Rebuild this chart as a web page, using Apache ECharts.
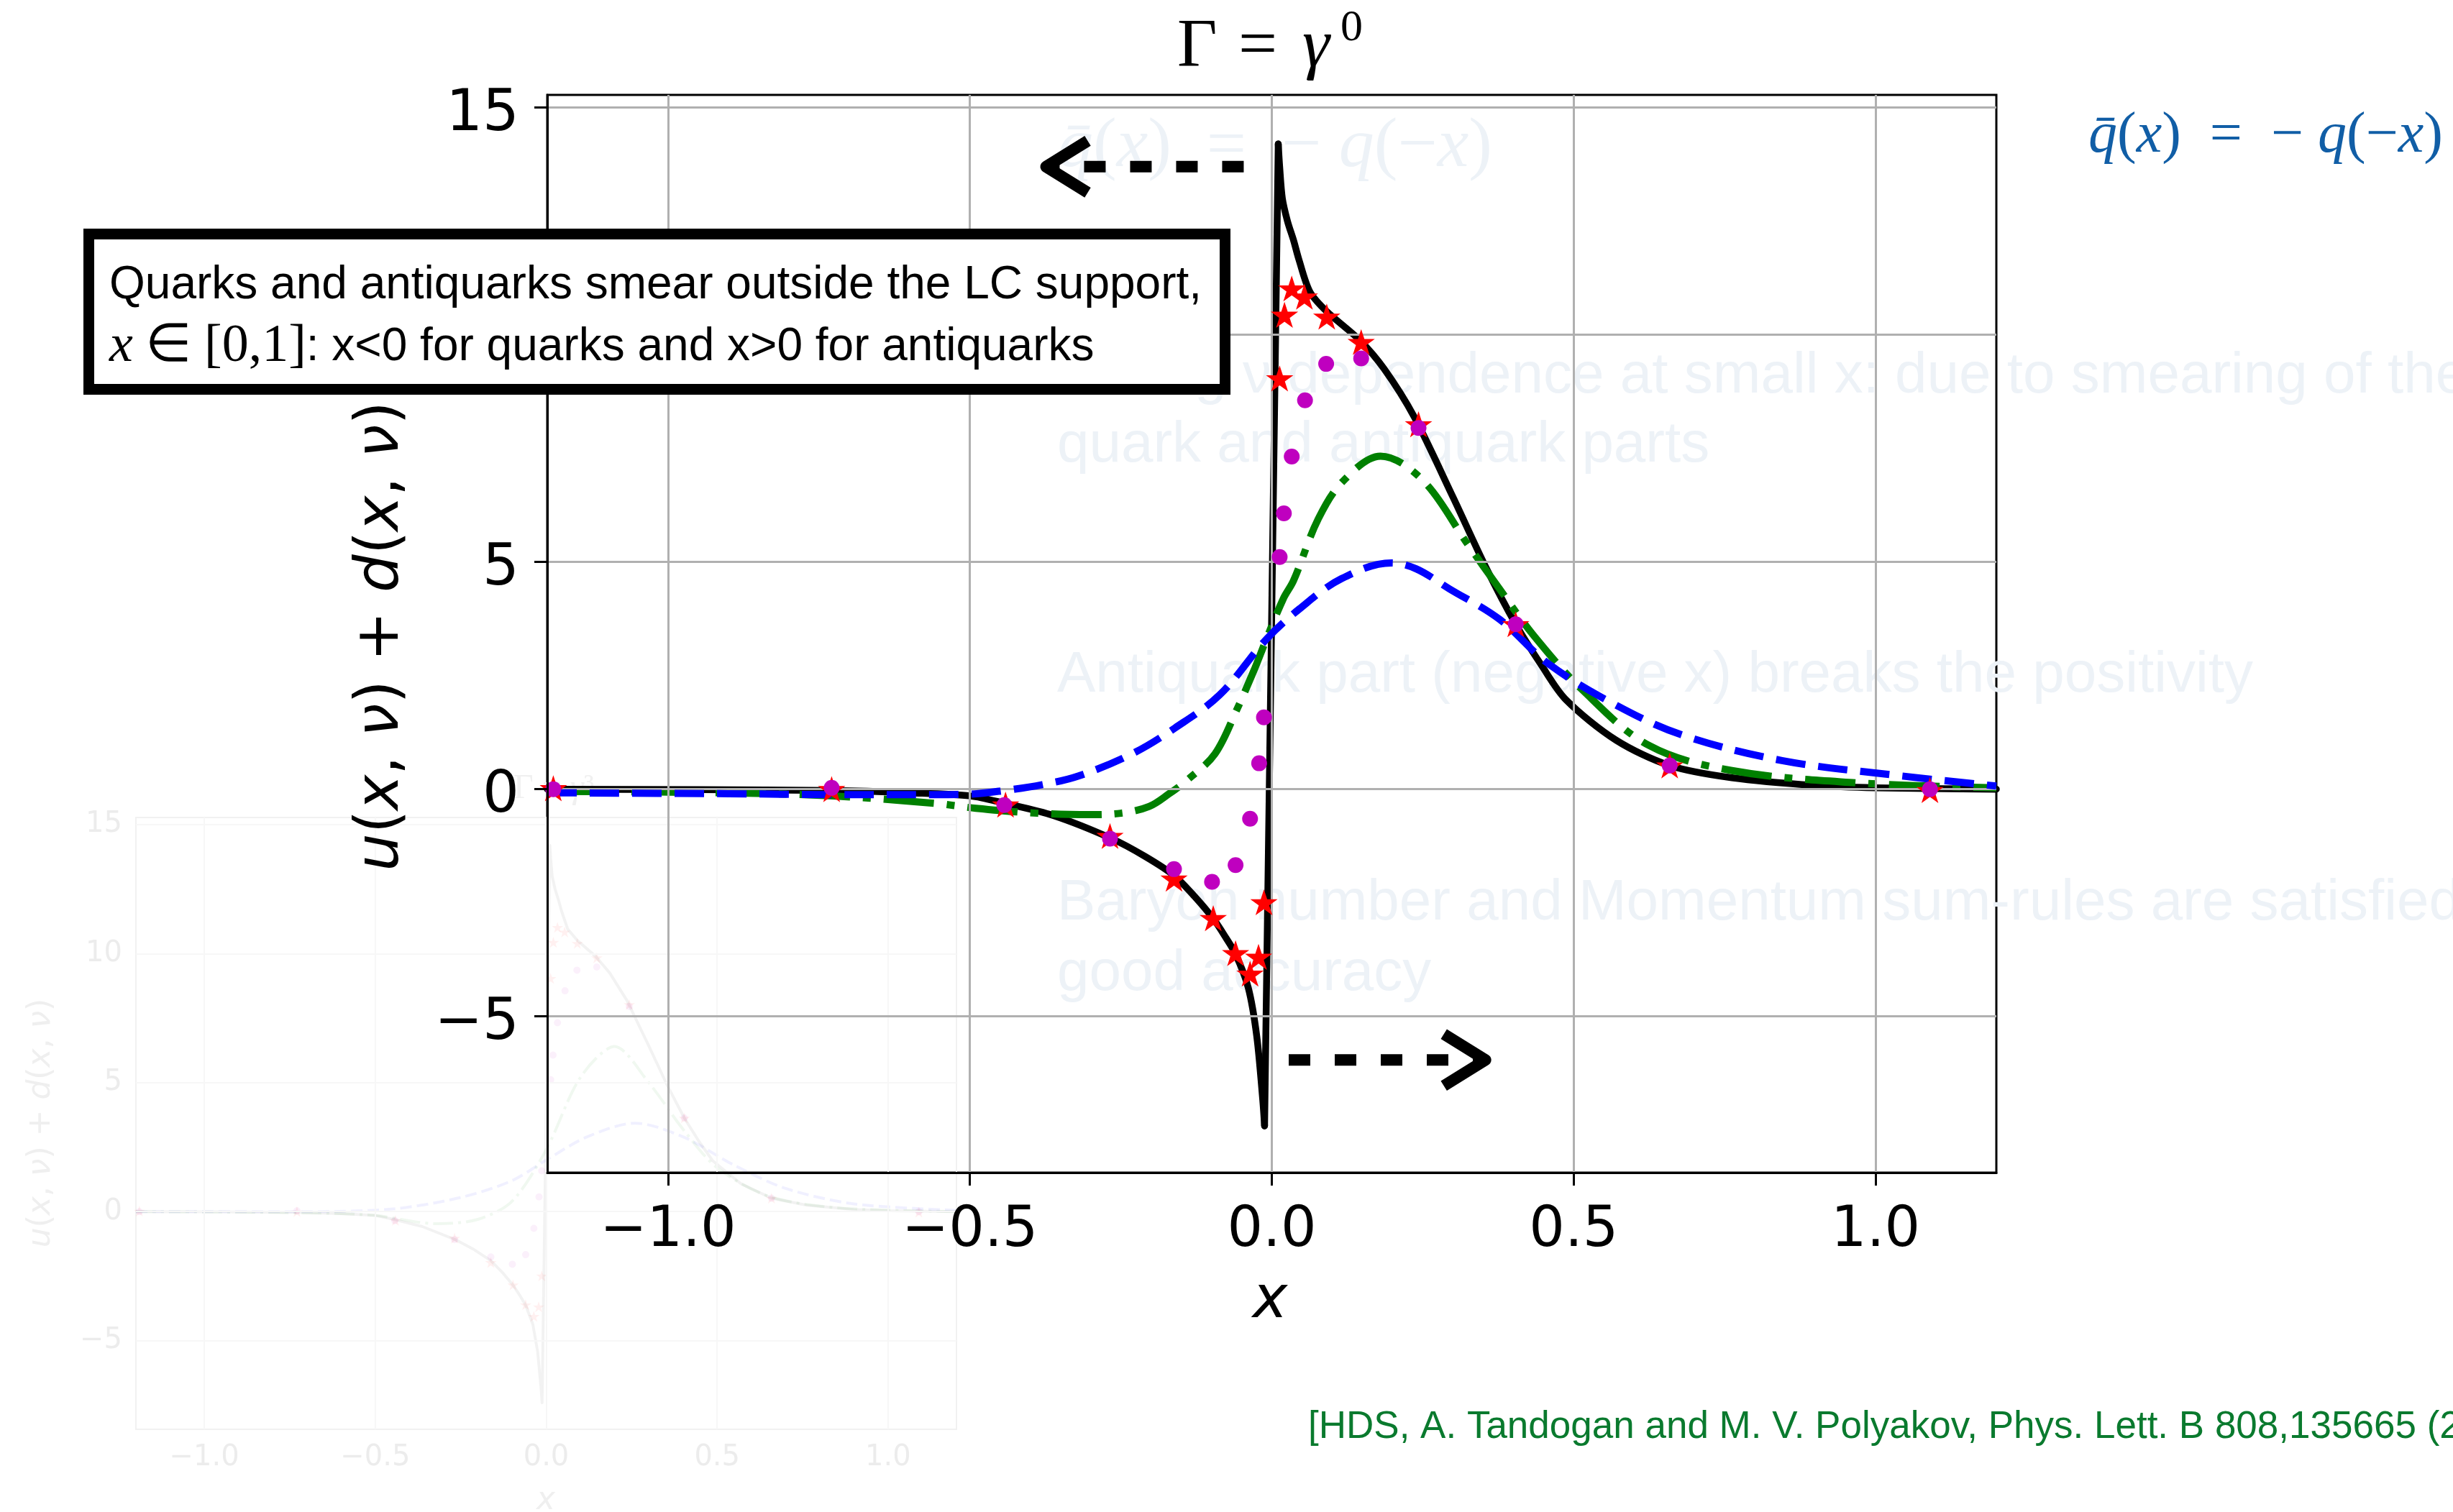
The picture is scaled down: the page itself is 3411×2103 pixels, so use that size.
<!DOCTYPE html>
<html><head><meta charset="utf-8">
<script src="https://cdn.jsdelivr.net/npm/echarts@6/dist/echarts.min.js"></script>
<style>html,body{margin:0;padding:0;background:#fff;}#c{width:3411px;height:2103px;}</style>
</head><body><div id="c"></div>
<script>
// ---------------- data ----------------
const xTicks = [-1.0, -0.5, 0.0, 0.5, 1.0];
const yTicks = [-5, 0, 5, 10, 15];
const xRange = [-1.2, 1.2];
const yRange = [-8.44, 15.28];

const blackCurve = [[-1.2,0.0],[-0.95,-0.01],[-0.727,-0.03],[-0.6,-0.08],[-0.499,-0.15],[-0.443,-0.31],
 [-0.362,-0.58],[-0.265,-1.09],[-0.21,-1.48],[-0.162,-1.9],[-0.128,-2.36],[-0.097,-2.85],[-0.077,-3.25],
 [-0.06,-3.63],[-0.039,-4.37],[-0.025,-5.43],[-0.015,-6.84],[-0.012,-7.41],[0.0107,14.2],[0.013,13.7],
 [0.0175,13.0],[0.026,12.5],[0.036,12.08],[0.045,11.65],[0.063,10.95],[0.0906,10.52],[0.145,9.89],
 [0.186,9.25],[0.236,8.19],[0.30,6.43],[0.355,4.87],[0.404,3.63],[0.446,2.74],[0.487,1.97],[0.57,1.08],
 [0.659,0.52],[0.762,0.25],[0.9,0.08],[1.0,0.03],[1.2,0.0]];

const greenCurve = [[-1.2,-0.05],[-0.9,-0.08],[-0.727,-0.15],[-0.559,-0.31],[-0.49,-0.42],[-0.388,-0.53],
 [-0.3,-0.56],[-0.25,-0.53],[-0.203,-0.38],[-0.17,-0.1],[-0.14,0.2],[-0.094,0.78],[-0.058,1.75],[-0.03,2.6],
 [-0.009,3.3],[0.019,4.19],[0.036,4.59],[0.077,5.95],[0.118,6.78],[0.18,7.33],[0.25,6.8],[0.325,5.38],
 [0.377,4.41],[0.432,3.41],[0.514,2.19],[0.625,0.96],[0.762,0.41],[0.968,0.14],[1.2,0.03]];

const blueCurve = [[-1.2,-0.08],[-0.9,-0.1],[-0.727,-0.12],[-0.56,-0.12],[-0.5,-0.11],[-0.443,-0.03],
 [-0.38,0.1],[-0.32,0.29],[-0.231,0.78],[-0.16,1.35],[-0.086,2.08],[-0.009,3.3],[0.046,3.97],[0.115,4.63],
 [0.198,4.98],[0.239,4.85],[0.294,4.41],[0.377,3.74],[0.459,2.75],[0.57,1.85],[0.68,1.19],[0.845,0.63],
 [1.037,0.30],[1.2,0.07]];

const magentaDots = [[-1.19,0.0],[-0.729,0.03],[-0.443,-0.35],[-0.268,-1.09],[-0.162,-1.76],[-0.099,-2.04],
 [-0.060,-1.67],[-0.036,-0.65],[-0.021,0.57],[-0.013,1.58],[0.013,5.11],[0.020,6.07],[0.033,7.32],
 [0.055,8.56],[0.090,9.36],[0.148,9.48],[0.243,7.95],[0.404,3.63],[0.659,0.52],[1.09,0.0]];

const redStars = [[-1.19,0.02],[-0.729,0.0],[-0.441,-0.34],[-0.268,-1.03],[-0.162,-1.97],[-0.097,-2.84],
 [-0.060,-3.61],[-0.036,-4.06],[-0.022,-3.69],[-0.013,-2.49],[0.013,9.04],[0.021,10.44],[0.033,11.02],
 [0.054,10.84],[0.091,10.40],[0.148,9.84],[0.243,8.03],[0.404,3.63],[0.659,0.52],[1.09,-0.02]];

// faint background copy (other Gamma) -- rough readings
const miniGreen = [[-1.2,0.0],[-0.7,-0.05],[-0.5,-0.15],[-0.32,-0.47],[-0.2,-0.3],[-0.1,0.4],[0.0,2.4],
 [0.1,5.2],[0.2,6.4],[0.3,5.0],[0.4,3.2],[0.5,1.7],[0.65,0.6],[0.85,0.15],[1.2,0.0]];
const miniBlue = [[-1.2,0.0],[-0.7,0.0],[-0.45,0.1],[-0.25,0.55],[-0.1,1.2],[0.0,2.0],[0.12,2.9],
 [0.26,3.43],[0.4,2.9],[0.55,1.8],[0.7,0.9],[0.9,0.3],[1.2,0.05]];

// annotation arrows (data coordinates)
const arrowLeft = {from:[-0.0465,13.70], to:[-0.374,13.70]};
const arrowRight = {from:[0.028,-5.96], to:[0.354,-5.96]};

// ---------------- chart ----------------
const chart = echarts.init(document.getElementById('c'), null, {renderer:'canvas', width:3411, height:2103});
const MINUS = '\u2212';
const fmtX = v => (v < -1e-9 ? MINUS : '') + Math.abs(v).toFixed(1);
const fmtY = v => (v < -1e-9 ? MINUS : '') + Math.abs(Math.round(v));
const starPath = 'path://M0 -10 L2.245 -3.09 L9.511 -3.09 L3.633 1.18 L5.878 8.09 L0 3.82 L-5.878 8.09 L-3.633 1.18 L-9.511 -3.09 L-2.245 -3.09 Z';
const MAIN_FONT = 'DejaVu Sans';

// split black curve at its minimum (cusp) so each smooth branch keeps the sharp spike
let iMin = 0;
blackCurve.forEach((p, i) => { if (p[1] < blackCurve[iMin][1]) iMin = i; });
const blackLeft = blackCurve.slice(0, iMin + 1);
const blackSpike = blackCurve.slice(iMin, iMin + 2);
const blackRight = blackCurve.slice(iMin + 1);

function xAxisCfg(grid, faint){
  return {type:'value', gridIndex:grid, min:xRange[0], max:xRange[1], z: faint?0:10,
    axisLine:{show:!faint, onZero:false, lineStyle:{color:'#000', width:3}},
    axisTick:{show:!faint, customValues:xTicks, length:18, lineStyle:{color:'#000', width:3}},
    axisLabel:{show:true, customValues:xTicks, formatter:fmtX, fontFamily:MAIN_FONT,
      fontSize: faint?40:78, color: faint?'#ececec':'#000', margin: faint?20:43},
    splitLine:{show:false}};
}
function yAxisCfg(grid, faint){
  return {type:'value', gridIndex:grid, min:yRange[0], max:yRange[1], z: faint?0:10,
    axisLine:{show:!faint, onZero:false, lineStyle:{color:'#000', width:3}},
    axisTick:{show:!faint, customValues:yTicks, length:18, lineStyle:{color:'#000', width:3}},
    // main y labels are drawn below from the axis scale (to match the reference's baseline)
    axisLabel:{show:faint, customValues:yTicks, formatter:fmtY, fontFamily:MAIN_FONT,
      fontSize:40, color:'#ececec', margin:19},
    splitLine:{show:false}};
}
function gridSeries(idx, color, w, z){
  return {type:'line', xAxisIndex:idx, yAxisIndex:idx, data:[[xRange[0],0]], showSymbol:false,
    lineStyle:{width:0, opacity:0}, silent:true, z:z,
    markLine:{silent:true, symbol:['none','none'], label:{show:false}, emphasis:{disabled:true},
      lineStyle:{color:color, width:w, type:'solid'},
      data:[...xTicks.map(v=>({xAxis:v})), ...yTicks.map(v=>({yAxis:v}))]}};
}
function curveSeries(idx, data, color, width, dash, z, smooth, cap){
  return {type:'line', xAxisIndex:idx, yAxisIndex:idx, data:data, showSymbol:false, symbol:'none',
    smooth:smooth, z:z, silent:true,
    lineStyle:{color:color, width:width, type:dash, cap:cap||'butt', join:'round'}};
}
function scatterSeries(idx, data, color, symbol, size, z){
  return {type:'scatter', xAxisIndex:idx, yAxisIndex:idx, data:data, symbol:symbol, symbolSize:size,
    symbolKeepAspect:true, z:z, silent:true, itemStyle:{color:color, opacity:1}};
}

const option = {
  backgroundColor:'#ffffff', animation:false,
  grid:[
    {left:761, top:132, width:2015, height:1499, show:true, borderColor:'#000', borderWidth:3,
     backgroundColor:'rgba(0,0,0,0)', containLabel:false, outerBoundsMode:'none'},
    {left:189, top:1137, width:1141, height:851, show:true, borderColor:'#f1f1f1', borderWidth:2,
     backgroundColor:'rgba(0,0,0,0)', containLabel:false, outerBoundsMode:'none'}
  ],
  xAxis:[xAxisCfg(0,false), xAxisCfg(1,true)],
  yAxis:[yAxisCfg(0,false), yAxisCfg(1,true)],
  series:[
    // faint background copy
    gridSeries(1, '#f7f7f7', 2, 0),
    curveSeries(1, blackCurve, 'rgba(0,0,0,0.05)', 4, 'solid', 0, false),
    curveSeries(1, miniGreen, 'rgba(0,128,0,0.06)', 4, [28,7,4,7], 0, 0.3),
    curveSeries(1, miniBlue, 'rgba(0,0,255,0.06)', 4, [16,7], 0, 0.3),
    scatterSeries(1, redStars, 'rgba(255,0,0,0.06)', starPath, 16, 0),
    scatterSeries(1, magentaDots, 'rgba(191,0,191,0.06)', 'circle', 10, 0),
    // main chart
    gridSeries(0, '#b0b0b0', 3, 1),
    curveSeries(0, blackLeft, '#000000', 9.5, 'solid', 3, 0.3, 'round'),
    curveSeries(0, blackSpike, '#000000', 9.5, 'solid', 3, false, 'round'),
    curveSeries(0, blackRight, '#000000', 9.5, 'solid', 3, 0.3, 'round'),
    curveSeries(0, greenCurve, '#008000', 10, [70,18,11,18], 4, 0.35),
    curveSeries(0, blueCurve, '#0000ff', 10, [41,18], 5, 0.35),
    scatterSeries(0, redStars, '#ff0000', starPath, 38, 6),
    scatterSeries(0, magentaDots, '#bf00bf', 'circle', 22, 7)
  ]
};
chart.setOption(option);

// ---------------- annotations ----------------
function txt(x, y, text, o){
  o = o || {};
  const st = Object.assign({text:text, fill:o.fill||'#000', fontSize:o.size||60,
    fontFamily:o.family||'Liberation Sans', fontStyle:o.style||'normal',
    align:o.align||'left', textAlign:o.align||'left', verticalAlign:'middle', textVerticalAlign:'middle'}, o.extra||{});
  return {type:'text', x:x, y:y, rotation:o.rot||0, z:o.z==null?0:o.z, silent:true, style:st};
}
function arrow(a){
  const t = chart.convertToPixel({gridIndex:0}, a.from);
  const h = chart.convertToPixel({gridIndex:0}, a.to);
  const dx = h[0]-t[0], dy = h[1]-t[1], L = Math.hypot(dx,dy), ux = dx/L, uy = dy/L;
  const bx = h[0]-ux*58, by = h[1]-uy*58;
  return [
    {type:'polyline', z:50, silent:true, shape:{points:[t,h]},
     style:{stroke:'#000', lineWidth:16, lineDash:[30,34], lineCap:'butt', fill:null}},
    {type:'polyline', z:51, silent:true, shape:{points:[[bx-uy*36, by+ux*36], h, [bx+uy*36, by-ux*36]]},
     style:{stroke:'#000', lineWidth:16, lineJoin:'round', lineCap:'butt', fill:null}}
  ];
}

const GHOST = '#edf2f7';
const serifRich = (size, color) => ({
  i:{fontFamily:'Liberation Serif', fontStyle:'italic', fontSize:size, fill:color, color:color},
  n:{fontFamily:'Liberation Serif', fontStyle:'normal', fontSize:size, fill:color, color:color}
});
const formulaText = '{i|q\u0304}{n|(}{i|x}{n|)  =  ' + MINUS + ' }{i|q}{n|(' + MINUS + '}{i|x}{n|)}';

const g = [];
// ghost texts (faded slide content)
g.push(txt(1471, 205, '', {z:0, extra:{text:formulaText, rich:serifRich(98, GHOST)}}));
g.push(txt(1470, 524, 'Strong \u03bd dependence at small x: due to smearing of the', {size:80, fill:GHOST}));
g.push(txt(1470, 620, 'quark and antiquark parts', {size:80, fill:GHOST}));
g.push(txt(1470, 940, 'Antiquark part (negative x) breaks the positivity', {size:80, fill:GHOST}));
g.push(txt(1470, 1257, 'Baryon number and Momentum sum-rules are satisfied with', {size:80, fill:GHOST}));
g.push(txt(1470, 1355, 'good accuracy', {size:80, fill:GHOST}));
// faint copy labels
g.push(txt(770, 1097, '', {z:0, align:'center', extra:{text:'{n|\u0393 = }{i|\u03b3}{n|\u00b3}', rich:serifRich(48, '#f0f0f0')}}));
g.push(txt(58, 1562, '', {z:0, align:'center', rot:Math.PI/2, extra:{text:'{i|u}{n|(}{i|x}{n|, }{i|\u03bd}{n|) + }{i|d}{n|(}{i|x}{n|, }{i|\u03bd}{n|)}',
  rich:{i:{fontFamily:MAIN_FONT, fontStyle:'italic', fontSize:44, fill:'#efefef'}, n:{fontFamily:MAIN_FONT, fontSize:44, fill:'#efefef'}}}}));
g.push(txt(759, 2088, 'x', {size:44, family:MAIN_FONT, style:'italic', fill:'#efefef', align:'center'}));

// main y tick labels, positioned through the y axis
yTicks.forEach(v => {
  const p = chart.convertToPixel({gridIndex:0}, [xRange[0], v]);
  g.push(txt(p[0] - 39, p[1] + 11, fmtY(v), {z:20, size:80, family:MAIN_FONT, align:'right'}));
});

// main title, placed piece by piece
g.push(txt(1637, 67, '\u0393', {z:20, size:96, family:'Liberation Serif'}));
g.push(txt(1722, 67, '=', {z:20, size:96, family:'Liberation Serif'}));
g.push(txt(1811, 67, '\u03b3', {z:20, size:96, family:'Liberation Serif', style:'italic'}));
g.push(txt(1864, 40, '0', {z:20, size:62, family:'Liberation Serif'}));
// axis names
g.push(txt(531, 885, '', {z:20, align:'center', rot:Math.PI/2, extra:{text:'{i|u}{n|(}{i|x}{n|, }{i|\u03bd}{n|) + }{i|d}{n|(}{i|x}{n|, }{i|\u03bd}{n|)}',
  rich:{i:{fontFamily:MAIN_FONT, fontStyle:'italic', fontSize:83, fill:'#000'}, n:{fontFamily:MAIN_FONT, fontSize:83, fill:'#000'}}}}));
g.push(txt(1766, 1811, 'x', {z:20, size:82, family:MAIN_FONT, style:'italic', align:'center'}));

// text box
g.push({type:'rect', z:100, silent:true, shape:{x:123.5, y:325.5, width:1580, height:216},
  style:{fill:'#ffffff', stroke:'#000', lineWidth:15}});
g.push(txt(152, 397, 'Quarks and antiquarks smear outside the LC support,', {z:101, size:64}));
g.push(txt(152, 483, '', {z:101, extra:{text:'{s|x} {m|\u2208 [0,1]}{a|: x<0 for quarks and x>0 for antiquarks}',
  rich:{s:{fontFamily:'Liberation Serif', fontStyle:'italic', fontSize:74, fill:'#000'},
        m:{fontFamily:'Liberation Serif', fontSize:74, fill:'#000'},
        a:{fontFamily:'Liberation Sans', fontSize:64, fill:'#000'}}}}));

// arrows
g.push(...arrow(arrowLeft), ...arrow(arrowRight));

// blue formula
g.push(txt(2904, 190, '', {z:20, extra:{text:formulaText, rich:serifRich(80, '#115ea6')}}));
// citation
g.push(txt(1819, 1985, '[HDS, A. Tandogan and M. V. Polyakov, Phys. Lett. B 808,135665 (2020)]', {z:20, size:53, fill:'#0a7a2e'}));

chart.setOption({graphic:{elements:g}});
</script>
</body></html>
